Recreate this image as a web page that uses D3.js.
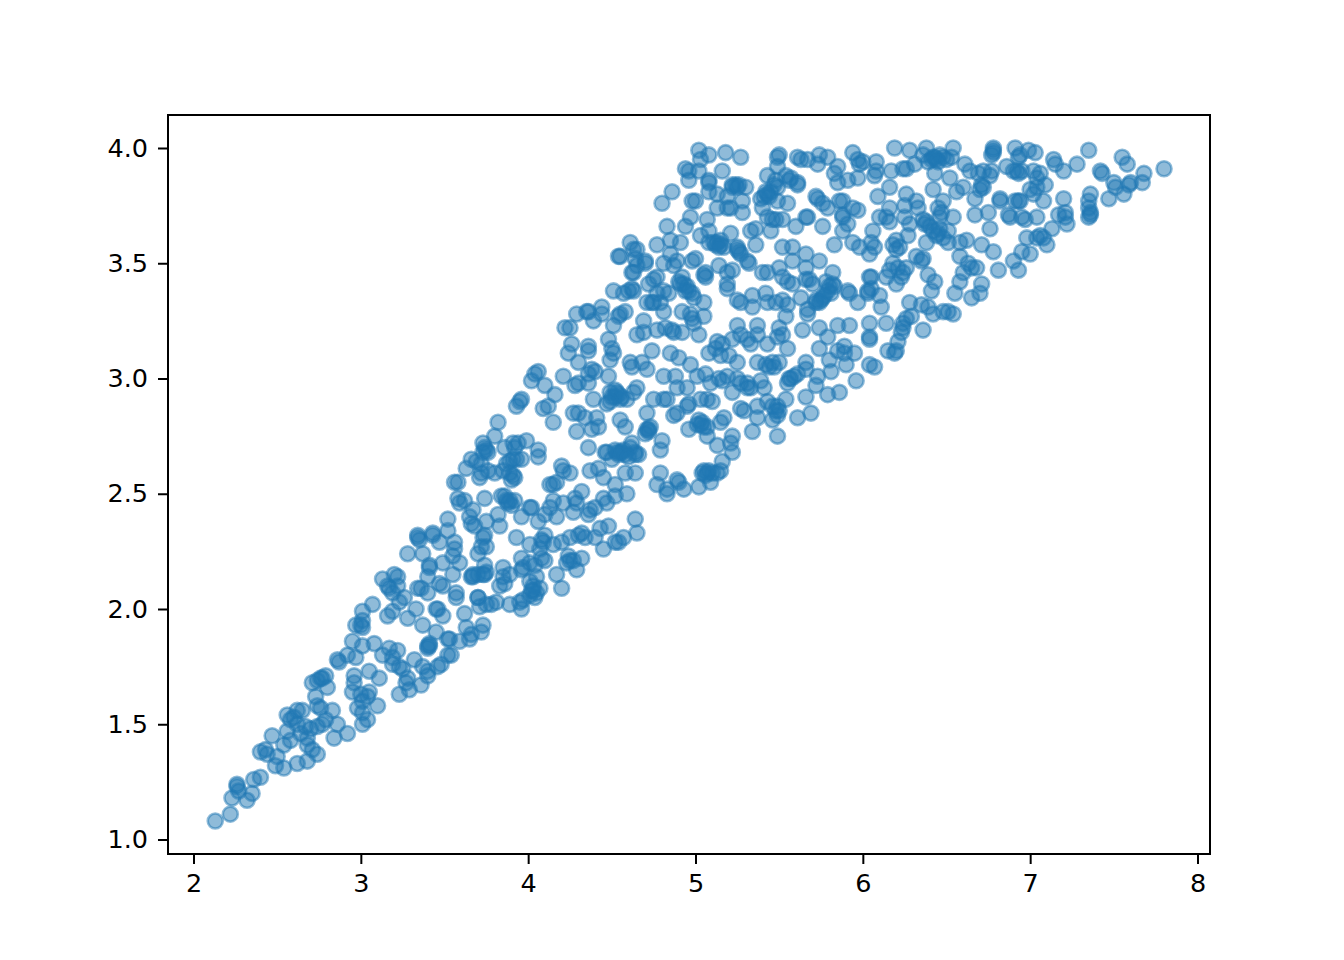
<!DOCTYPE html>
<html><head><meta charset="utf-8">
<script src="https://cdn.jsdelivr.net/npm/d3@7"></script>
<style>html,body{margin:0;padding:0;background:#fff}svg{display:block}</style>
</head><body><svg id="c" width="1344" height="960"></svg>
<script>
const xTicks=[2,3,4,5,6,7,8];
const yTicks=[1.0,1.5,2.0,2.5,3.0,3.5,4.0];
const lowerCloud=[[2.13,1.08],[2.22,1.11],[2.23,1.18],[2.32,1.17],[2.35,1.20],[2.26,1.24],[2.26,1.23],[2.27,1.21],[2.36,1.26],[2.40,1.27],
[2.40,1.38],[2.43,1.39],[2.44,1.37],[2.47,1.45],[2.50,1.36],[2.49,1.32],[2.54,1.31],[2.62,1.33],[2.68,1.34],[2.74,1.37],[2.71,1.39],[2.68,1.41],[2.54,1.41],[2.58,1.43],
[2.56,1.54],[2.58,1.52],[2.62,1.56],[2.65,1.56],[2.60,1.53],[2.56,1.47],[2.62,1.50],[2.64,1.46],[2.67,1.49],[2.70,1.48],[2.68,1.44],[2.74,1.49],[2.77,1.50],[2.79,1.52],[2.83,1.56],[2.86,1.50],[2.84,1.44],[2.92,1.46],
[2.74,1.58],[2.73,1.62],[2.76,1.57],[2.80,1.66],[2.71,1.68],[2.76,1.70],[2.77,1.70],[2.74,1.69],[2.79,1.71],[2.86,1.78],[2.87,1.77],[2.92,1.80],[2.97,1.79],[2.95,1.86],[3.01,1.84],[3.08,1.85],
[2.97,1.93],[3.01,1.92],[3.00,1.93],[3.01,1.95],[3.01,1.99],[3.07,2.02],[2.96,1.71],[2.96,1.68],[2.95,1.64],[3.05,1.73],[3.11,1.70],[3.00,1.63],[3.05,1.64],[3.01,1.60],[3.04,1.62],[2.98,1.57],[3.10,1.58],[3.01,1.55],[3.04,1.52],[3.01,1.50],
[3.17,1.83],[3.13,1.80],[3.22,1.82],[3.19,1.79],[3.19,1.76],[3.25,1.74],[3.23,1.75],[3.32,1.78],[3.28,1.70],[3.27,1.68],[3.29,1.65],[3.23,1.63],[3.36,1.67],[3.40,1.73],[3.37,1.75],[3.40,1.71],[3.46,1.75],[3.48,1.76],[3.40,1.83],[3.41,1.84],[3.52,1.80],[3.54,1.80],[3.53,1.87],[3.52,1.87],[3.59,1.86],[3.65,1.87],[3.66,1.89],[3.72,1.90],[3.73,1.93],[3.63,1.92],[3.62,1.98],[3.45,1.90],[3.37,1.93],[3.28,1.96],[3.33,2.00],[3.46,2.00],[3.45,2.00],[3.49,1.97],[3.16,1.97],[3.19,1.99],[3.23,2.03],[3.26,2.05],
[3.13,2.13],[3.17,2.09],[3.16,2.10],[3.20,2.15],[3.22,2.14],[3.22,2.10],[3.19,2.07],[3.34,2.09],[3.36,2.09],[3.40,2.07],[3.41,2.18],[3.40,2.14],[3.49,2.10],[3.47,2.11],[3.55,2.15],[3.57,2.07],[3.57,2.05],[3.70,2.05],[3.74,2.15],[3.67,2.14],[3.71,2.01],[3.75,2.02],[3.41,1.85],[3.40,1.84],[3.70,2.15]];
const midCloud=[[3.82,2.81],[3.93,2.88],[3.95,2.90],[4.15,2.81],[4.09,2.87],[4.12,2.88],[3.80,2.75],[3.73,2.72],[3.74,2.70],[3.75,2.69],[3.73,2.68],[3.76,2.68],[3.66,2.65],[3.69,2.64],[3.72,2.63],[3.63,2.61],[3.71,2.57],[3.76,2.60],[3.80,2.59],[3.72,2.59],
[3.86,2.70],[3.91,2.72],[3.94,2.72],[3.99,2.73],[3.92,2.70],[4.06,2.69],[4.06,2.66],[3.96,2.65],[3.91,2.65],[3.89,2.64],[3.87,2.63],[3.85,2.60],[3.89,2.59],[3.91,2.58],[3.92,2.57],[3.90,2.56],[3.93,2.65],
[3.56,2.55],[3.58,2.55],[3.58,2.48],[3.59,2.46],[3.62,2.47],[3.74,2.48],[3.84,2.49],[3.86,2.49],[3.88,2.46],[3.90,2.45],[3.92,2.47],[3.87,2.47],[3.89,2.47],[3.96,2.40],[4.01,2.44],[4.02,2.44],[3.67,2.43],[3.65,2.40],[3.66,2.37],[3.68,2.36],[3.75,2.38],[3.82,2.41],[3.83,2.36],[3.52,2.39],[3.52,2.34],[3.74,2.32],[3.73,2.31],[3.75,2.27],[3.70,2.24],[3.72,2.27],
[3.34,2.32],[3.34,2.31],[3.35,2.30],[3.43,2.33],[3.43,2.32],[3.47,2.29],[3.56,2.29],[3.56,2.26],[3.55,2.23],[3.28,2.24],[3.37,2.24],[3.59,2.20],[3.41,2.19],[3.49,2.20],
[3.66,2.14],[3.67,2.15],[3.73,2.15],[3.75,2.16],[3.74,2.19],[3.85,2.18],[3.85,2.14],[3.86,2.11],[3.83,2.10],[3.89,2.15],[3.70,2.05],[3.78,2.02],[3.81,2.03],[3.89,2.02],[3.95,2.03],[3.96,2.00],[3.97,2.04],[4.01,2.06],[4.02,2.08],[4.04,2.05],[4.07,2.09],[4.05,2.14],[4.01,2.12],[4.03,2.10],[4.05,2.07],[4.03,2.08],[3.96,2.17],[3.97,2.18],[4.01,2.20],[4.04,2.19],[3.96,2.22],[4.08,2.22],[4.10,2.21],[4.17,2.15],[4.20,2.09],
[4.24,2.23],[4.25,2.21],[4.23,2.20],[4.27,2.21],[4.32,2.22],[4.29,2.17],[3.93,2.31],[4.01,2.28],[4.08,2.30],[4.10,2.32],[4.09,2.29],[4.15,2.28],[4.07,2.26],[4.20,2.29],[4.25,2.31],[4.30,2.32],[4.32,2.33],[4.34,2.31],[4.40,2.31],[4.43,2.35],[4.48,2.36],[4.45,2.26],[4.52,2.29],[4.54,2.29],[4.57,2.31],[4.64,2.39],[4.65,2.33],
[4.15,2.54],[4.13,2.54],[4.20,2.62],[4.21,2.60],[4.17,2.55],[4.25,2.59],[4.37,2.60],[4.42,2.61],[4.45,2.57],[4.32,2.51],[4.28,2.48],[4.29,2.46],[4.21,2.46],[4.15,2.47],[4.13,2.44],[4.10,2.41],[4.17,2.40],[4.06,2.38],[4.27,2.42],[4.36,2.41],[4.37,2.43],[4.40,2.44],[4.45,2.48],[4.47,2.46],[4.52,2.54],[4.52,2.49],[4.59,2.50],
[4.47,2.68],[4.53,2.68],[4.57,2.69],[4.62,2.72],[4.64,2.67],[4.58,2.59],[4.64,2.59],[4.04,3.02],[4.02,2.99],[4.10,2.97],[4.16,2.93],[4.06,3.03],[3.96,2.91],
[4.21,3.01],[4.28,2.97],[4.30,2.98],[4.36,3.02],[4.38,3.04],[4.40,3.03],[4.36,2.98],[4.48,3.01],[4.22,3.22],[4.25,3.22],[4.26,3.15],[4.24,3.11],[4.30,3.07],[4.36,3.14],[4.36,3.12],[4.29,3.28],[4.35,3.29],[4.36,3.29],[4.39,3.25],[4.44,3.31],[4.44,3.28],
[4.51,3.23],[4.54,3.27],[4.58,3.29],[4.55,3.28],[4.51,3.38],[4.60,3.38],[4.57,3.37],[4.62,3.39],[4.63,3.38],[4.63,3.46],[4.65,3.49],[4.70,3.50],[4.54,3.53],[4.48,3.17],[4.51,3.11],[4.50,3.13],[4.49,3.08],[4.61,3.07],[4.62,3.05],[4.68,3.07],[4.71,3.04],[4.74,3.12],[4.69,3.25],[4.65,3.19],[4.69,3.20],
[4.77,3.21],[4.82,3.22],[4.86,3.21],[4.87,3.20],[4.92,3.20],[5.02,3.19],[4.71,3.33],[4.75,3.33],[4.74,3.33],[4.81,3.29],[4.92,3.29],[4.97,3.28],[4.98,3.26],[4.99,3.24],[5.05,3.27],[5.05,3.33],[4.72,3.41],[4.75,3.43],[4.77,3.44],[4.81,3.38],[4.77,3.37],[4.79,3.33],[4.91,3.41],[4.92,3.44],[4.96,3.38],[4.98,3.37],[4.99,3.35],[4.84,3.37],[5.05,3.45],[5.06,3.46],[4.93,3.41],[4.95,3.40],[4.94,3.38],[4.90,3.42],
[5.14,3.49],[5.22,3.47],[5.19,3.46],[5.19,3.41],[5.19,3.39],[5.27,3.33],[5.25,3.34],[5.34,3.36],[5.34,3.31],[5.42,3.37],[5.43,3.33],[5.40,3.46],[5.43,3.46],[5.52,3.44],[5.55,3.42],[5.58,3.41],[5.48,3.33],[5.52,3.34],[5.55,3.32],[5.63,3.35],[5.54,3.27],[5.67,3.30],[5.67,3.28],[5.72,3.33],[5.64,3.21],
[5.25,3.23],[5.37,3.23],[5.31,3.17],[5.27,3.19],[5.33,3.15],[5.37,3.19],[5.22,3.17],[5.49,3.18],[5.52,3.19],[5.43,3.15],[5.55,3.13],[5.13,3.16],[5.08,3.11],[5.15,3.10],[5.20,3.10],[5.25,3.07],[5.12,3.13],[5.16,3.15],[5.06,3.02],[5.09,2.98],[5.01,3.01],[4.97,3.06],[4.90,3.09],[4.85,3.11],[4.81,3.01],[4.88,3.01],[4.89,2.96],[4.95,2.96],
[5.19,3.01],[5.25,3.00],[5.27,2.98],[5.31,2.98],[5.33,2.96],[5.39,2.99],[5.41,2.96],[5.22,2.94],[5.31,2.96],[5.14,3.00],[5.16,2.99],[5.57,3.00],[5.55,2.98],[5.61,3.02],[5.66,3.04],[5.73,3.01],[5.72,2.97],[5.66,2.92],[5.37,3.07],[5.42,3.06],[5.46,3.07],[5.50,3.07],[5.44,3.05],[5.47,3.05],[5.56,3.00],[5.59,3.01],
[5.27,2.87],[5.29,2.86],[5.37,2.88],[5.43,2.90],[5.49,2.88],[5.49,2.84],[5.54,2.91],[5.46,2.82],[5.61,2.83],[5.69,2.85],[5.34,2.77],[5.49,2.75],[5.37,2.83],[5.46,2.88],[5.50,2.86],[5.48,2.86],
[4.71,2.78],[4.72,2.78],[4.70,2.76],[4.73,2.79],[4.72,2.77],[4.80,2.73],[4.79,2.69],[4.75,2.91],[4.81,2.91],[4.83,2.91],[4.71,2.85],[4.87,2.84],[4.89,2.85],[4.95,2.88],[4.96,2.89],[5.03,2.91],[5.07,2.91],[5.10,2.90],[4.96,2.78],[5.01,2.80],[5.04,2.81],[5.07,2.79],[5.07,2.75],[5.03,2.80],[5.05,2.79],[5.02,2.82],[5.15,2.81],[5.17,2.83],[5.21,2.72],[5.13,2.71],[5.22,2.75],[5.22,2.68],[5.16,2.64],[5.15,2.60],
[5.04,2.59],[5.07,2.59],[5.10,2.59],[5.13,2.59],[5.09,2.55],[5.02,2.53],[5.05,2.60],[5.06,2.58],[5.08,2.60],[4.89,2.56],[4.90,2.55],[4.93,2.52],[4.79,2.59],[4.77,2.54],[4.83,2.52],[4.83,2.50],
[4.55,2.82],[4.58,2.79],[4.36,2.70],[4.29,2.77],[4.38,2.78],[4.42,2.79],[4.41,2.83],[4.27,2.85],[4.30,2.85],[4.34,2.83],[4.39,2.91],[4.49,2.94],[4.53,2.94],[4.47,2.89],[4.55,2.91],[4.52,2.92],[4.65,2.96],[4.59,2.91],[4.63,2.94],[4.50,2.92],[4.54,2.93],[4.52,2.95],[4.56,2.92],[4.49,2.90],[4.46,2.68],[4.52,2.69],[4.55,2.68],[4.61,2.70],[4.64,2.68],[4.66,2.67],[4.50,2.65],[4.56,2.68],[4.58,2.67],[4.54,2.67],[4.60,2.66]];
const upperCloud=[[5.02,3.99],[5.08,3.97],[5.18,3.98],[5.27,3.96],[5.16,3.90],[4.94,3.91],[4.96,3.90],[5.02,3.90],[5.03,3.95],[4.96,3.86],[5.08,3.86],[5.08,3.85],[5.08,3.81],[5.13,3.80],[4.86,3.81],[4.80,3.76],[4.98,3.77],[5.00,3.77],[5.24,3.84],[5.25,3.83],[5.22,3.83],[5.30,3.83],[5.22,3.84],[5.26,3.84],[5.19,3.79],[5.28,3.77],[5.28,3.72],[5.13,3.74],[5.19,3.74],[5.21,3.74],
[4.83,3.66],[4.94,3.66],[4.97,3.70],[5.07,3.69],[5.08,3.64],[5.03,3.62],[5.13,3.59],[5.11,3.59],[5.15,3.58],[5.17,3.57],[5.08,3.59],[5.15,3.60],[5.12,3.58],[5.14,3.57],[5.21,3.63],[5.25,3.57],[5.25,3.56],[5.27,3.54],[5.26,3.55],[5.31,3.51],[5.32,3.50],[5.36,3.58],[5.33,3.64],[5.36,3.65],[5.45,3.64],[5.46,3.69],[5.48,3.69],[5.52,3.69],[5.43,3.70],
[5.39,3.78],[5.41,3.79],[5.43,3.80],[5.49,3.77],[5.55,3.76],[5.40,3.74],[5.43,3.88],[5.48,3.86],[5.49,3.83],[5.47,3.84],[5.45,3.81],[5.44,3.79],[5.42,3.81],[5.54,3.88],[5.57,3.87],[5.56,3.86],[5.61,3.85],[5.61,3.84],[5.49,3.96],[5.49,3.92],[5.50,3.97],[5.61,3.96],[5.67,3.95],[5.63,3.95],[5.74,3.97],[5.79,3.96],[5.73,3.93],
[5.72,3.79],[5.73,3.78],[5.76,3.76],[5.79,3.74],[5.86,3.77],[5.88,3.77],[5.88,3.71],[5.88,3.70],[5.94,3.74],[5.97,3.73],[5.91,3.67],[5.88,3.64],[5.66,3.70],[5.67,3.70],[5.60,3.66],[5.76,3.66],[5.83,3.58],[5.94,3.59],
[5.85,3.92],[5.83,3.89],[5.85,3.85],[5.91,3.86],[5.97,3.87],[5.94,3.98],[5.97,3.95],[5.98,3.93],[6.00,3.94],[6.08,3.94],[6.08,3.90],[6.07,3.88],[6.16,3.83],[6.19,4.00],[6.28,3.99],[6.17,3.90],[6.26,3.91],[6.31,3.93],[6.24,3.91],
[6.09,3.79],[6.16,3.74],[6.14,3.70],[6.10,3.70],[6.16,3.68],[6.26,3.80],[6.25,3.75],[6.25,3.70],[6.32,3.77],[6.28,3.67],[6.27,3.62],[6.06,3.64],[6.05,3.59],[5.98,3.57],[6.07,3.57],[6.04,3.54],[6.18,3.58],[6.22,3.57],[6.20,3.56],[6.20,3.60],[6.32,3.53],
[6.16,3.47],[6.21,3.48],[6.24,3.46],[6.23,3.44],[6.20,3.41],[6.26,3.48],[6.14,3.44],[6.04,3.44],[6.05,3.44],[6.03,3.38],[6.03,3.37],[6.05,3.39],[6.10,3.36],[6.11,3.31],[5.97,3.33],[5.92,3.37],[5.91,3.38],[6.14,3.24],[6.04,3.24],[6.24,3.24],[6.26,3.26],
[5.50,3.48],[5.66,3.54],[5.58,3.51],[5.58,3.57],[5.52,3.57],[5.66,3.48],[5.74,3.51],[5.82,3.46],[5.82,3.41],[5.80,3.40],[5.79,3.38],[5.75,3.34],[5.72,3.34],[5.81,3.37],[5.66,3.43],[5.68,3.43],[5.76,3.35],[5.77,3.36],[5.74,3.33],[5.70,3.41],[5.78,3.42],[5.83,3.40],
[4.61,3.59],[4.63,3.56],[4.65,3.56],[4.77,3.58],[4.85,3.60],[4.91,3.59],[4.64,3.52],[4.62,3.46],[4.55,3.53],[4.70,3.51],[4.81,3.50],[4.87,3.49],[4.89,3.51],[4.98,3.51],[5.00,3.52],[4.85,3.54],[5.06,3.44],[5.74,3.22],[5.85,3.23],[5.92,3.23],[5.50,3.22],
[6.38,4.00],[6.36,3.97],[6.41,3.95],[6.43,3.96],[6.46,3.97],[6.48,3.96],[6.54,4.00],[6.53,3.96],[6.50,3.95],[6.39,3.94],[6.44,3.95],[6.42,3.96],[6.45,3.94],[6.43,3.89],[6.42,3.82],[6.52,3.87],[6.56,3.81],[6.60,3.83],[6.61,3.93],[6.64,3.90],
[6.48,3.77],[6.45,3.74],[6.47,3.72],[6.46,3.70],[6.54,3.70],[6.33,3.74],[6.36,3.69],[6.37,3.67],[6.38,3.68],[6.40,3.66],[6.42,3.64],[6.45,3.63],[6.44,3.62],[6.46,3.65],[6.48,3.61],[6.51,3.59],[6.51,3.64],[6.38,3.59],[6.36,3.52],[6.35,3.51],
[6.58,3.59],[6.62,3.60],[6.71,3.58],[6.78,3.55],[6.76,3.65],[6.75,3.72],[6.67,3.71],[6.58,3.53],[6.63,3.50],[6.65,3.48],[6.68,3.48],[6.60,3.46],[6.58,3.42],[6.39,3.45],[6.43,3.42],[6.41,3.38],[6.55,3.37],[6.65,3.35],[6.71,3.41],[6.70,3.37],
[6.81,3.47],[6.90,3.51],[6.93,3.47],[6.95,3.55],[7.00,3.54],[6.98,3.61],[7.04,3.61],[7.06,3.62],[7.10,3.58],[7.13,3.65],[7.08,3.61],[7.04,3.70],[6.97,3.69],[6.95,3.70],[6.88,3.70],[6.87,3.71],[6.82,3.78],[6.82,3.77],[6.91,3.77],[6.93,3.77],[6.94,3.77],[7.08,3.77],
[7.20,3.78],[7.21,3.72],[7.17,3.71],[7.22,3.67],[7.21,3.70],[7.36,3.80],[7.35,3.77],[7.35,3.74],[7.36,3.72],[7.36,3.71],[7.35,3.70],[7.35,3.99],[7.28,3.93],[7.20,3.90],[7.14,3.95],[7.15,3.93],[7.42,3.90],[7.43,3.89],[7.47,3.78],[7.50,3.85],[7.51,3.83],[7.55,3.96],[7.58,3.93],[7.56,3.80],[7.59,3.84],[7.60,3.85],[7.67,3.85],[7.68,3.89],[7.80,3.91],
[6.91,4.00],[6.94,3.97],[6.93,3.96],[6.99,3.99],[7.03,3.98],[6.78,4.00],[6.78,3.98],[6.77,3.97],[6.78,3.99],[6.69,3.89],[6.72,3.90],[6.77,3.90],[6.76,3.88],[6.71,3.84],[6.72,3.83],[6.70,3.82],[6.67,3.78],[6.86,3.92],[6.90,3.90],[6.92,3.90],[6.93,3.89],[6.95,3.90],[7.02,3.90],[7.06,3.89],[7.04,3.87],[7.00,3.82],[7.04,3.83],[7.09,3.84],[7.02,3.80],
[6.18,3.50],[5.79,3.18],[6.04,3.18],[6.04,3.17],[6.24,3.22],[6.23,3.20],[6.21,3.16],[6.20,3.12],[6.15,3.12],[6.19,3.11],[6.36,3.21],[6.28,3.33],[6.35,3.32],[6.39,3.31],[6.42,3.28],[6.48,3.29],[6.51,3.29],[6.54,3.28],[6.29,3.27],
[5.74,3.13],[5.80,3.08],[5.85,3.12],[5.89,3.14],[5.95,3.11],[5.90,3.06],[6.04,3.06],[6.07,3.05],[5.66,3.07],[5.86,2.94],[5.96,2.99],[5.79,2.93],[5.81,3.03],[5.89,3.11]];
const allPoints=[...lowerCloud,...midCloud,...upperCloud];

const svg=d3.select("#c");
const x=d3.scaleLinear().domain([2,8]).range([193.5,1197.5]);
const y=d3.scaleLinear().domain([1,4]).range([839.5,148]);
const frame={l:168,r:1210,t:115,b:854};
const fs="25.5px 'DejaVu Sans'";

svg.append("g").selectAll("circle").data(allPoints).join("circle")
 .attr("cx",d=>x(d[0])).attr("cy",d=>y(d[1])).attr("r",7.5)
 .attr("fill","#1f77b4").attr("fill-opacity",.5)
 .attr("stroke","#1f77b4").attr("stroke-opacity",.5).attr("stroke-width",2.6);

const ax=svg.append("g").attr("transform",`translate(0,${frame.b})`)
 .call(d3.axisBottom(x).tickValues(xTicks).tickFormat(d3.format("d")).tickSize(10).tickPadding(10));
const ay=svg.append("g").attr("transform",`translate(${frame.l},0)`)
 .call(d3.axisLeft(y).tickValues(yTicks).tickFormat(d3.format(".1f")).tickSize(10).tickPadding(10));
[ax,ay].forEach(g=>{g.select(".domain").remove();
 g.selectAll("line").attr("stroke","#000").attr("stroke-width",2);
 g.selectAll("text").style("font",fs).attr("fill","#000");});

svg.append("rect").attr("x",frame.l).attr("y",frame.t).attr("width",frame.r-frame.l).attr("height",frame.b-frame.t)
 .attr("fill","none").attr("stroke","#000").attr("stroke-width",2);
</script></body></html>
